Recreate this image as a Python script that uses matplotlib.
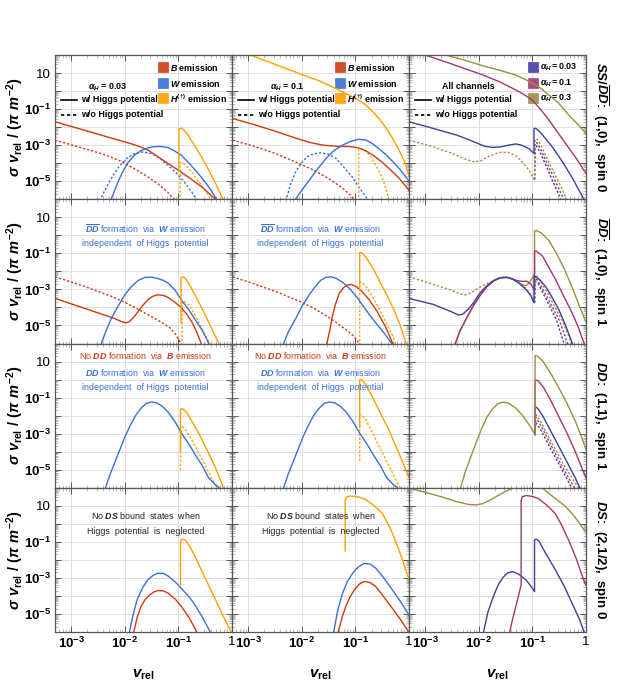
import numpy as np
import matplotlib.pyplot as plt
from matplotlib.patches import Rectangle

plt.rcParams["font.family"] = "Liberation Sans"
plt.rcParams["mathtext.fontset"] = "custom"
plt.rcParams["mathtext.rm"] = "Liberation Sans:bold"
plt.rcParams["mathtext.it"] = "Liberation Sans:italic:bold"
plt.rcParams["mathtext.bf"] = "Liberation Sans:bold"

# curves are stored as (log10 v_rel, log10 sigma v_rel)
# row 1: SS / DDbar (1,0) spin 0
r1c1_B_on = ([-3.3, -1.85, -1.7, -1.55, -1.38, -1.19, -1.0, -0.82, -0.56, -0.31, -0.28],
             [-1.70, -2.95, -3.1, -3.3, -3.65, -4.02, -4.39, -4.76, -5.32, -6.0, -6.1])
r1c1_B_off = ([-3.3, -2.8, -2.4, -2.1, -1.85, -1.6, -1.38, -1.2, -1.05],
              [-2.72, -3.15, -3.5, -3.85, -4.25, -4.7, -5.15, -5.6, -6.1])
r1c1_W_on = ([-2.27, -2.2, -2.14, -2.05, -1.95, -1.82, -1.7, -1.57, -1.45, -1.32, -1.2, -1.08, -0.95, -0.8, -0.65, -0.5, -0.38, -0.27],
             [-6.1, -5.6, -5.13, -4.55, -4.0, -3.55, -3.3, -3.15, -3.08, -3.07, -3.13, -3.3, -3.55, -4.0, -4.5, -5.05, -5.55, -6.1])
r1c1_W_off = ([-2.47, -2.38, -2.3, -2.2, -2.1, -1.95, -1.82, -1.67, -1.52, -1.38, -1.2, -1.05, -0.9, -0.75, -0.65],
              [-6.1, -5.55, -5.1, -4.6, -4.15, -3.7, -3.47, -3.38, -3.45, -3.65, -4.1, -4.5, -5.0, -5.6, -6.1])
r1c1_H_on = ([-0.99, -0.99, -0.97, -0.94, -0.9, -0.82, -0.7, -0.56, -0.43, -0.31, -0.2, -0.15],
             [-4.45, -2.15, -2.07, -2.07, -2.15, -2.45, -3.0, -3.7, -4.4, -5.1, -5.8, -6.1])
r1c1_H_off = ([-0.97, -0.97, -0.93, -0.87, -0.75, -0.6, -0.48, -0.38],
              [-6.1, -3.98, -3.98, -4.1, -4.5, -5.1, -5.6, -6.1])

r1c2_B_on = ([-3.29, -2.9, -2.5, -2.1, -1.85, -1.6, -1.35, -1.1, -0.94, -0.8, -0.65, -0.5, -0.35, -0.18, 0.0],
             [-1.52, -1.85, -2.22, -2.62, -2.85, -3.0, -3.06, -3.08, -3.15, -3.32, -3.6, -3.95, -4.35, -4.85, -5.5])
r1c2_B_off = ([-3.29, -2.9, -2.5, -2.1, -1.8, -1.5, -1.25, -1.1, -1.0],
              [-2.72, -3.05, -3.45, -3.95, -4.35, -4.85, -5.35, -5.75, -6.1])
r1c2_W_on = ([-2.14, -2.0, -1.86, -1.7, -1.55, -1.4, -1.24, -1.1, -0.94, -0.8, -0.69, -0.55, -0.44, -0.3, -0.18, 0.0],
             [-6.1, -5.5, -4.94, -4.3, -3.74, -3.3, -3.0, -2.8, -2.67, -2.72, -2.9, -3.22, -3.5, -3.92, -4.3, -5.0])
r1c2_W_off = ([-2.3, -2.2, -2.11, -2.0, -1.9, -1.78, -1.65, -1.5, -1.35, -1.18, -1.05, -0.94, -0.82, -0.75],
              [-6.1, -5.1, -4.45, -3.95, -3.65, -3.48, -3.42, -3.5, -3.75, -4.35, -4.8, -5.3, -5.8, -6.1])
r1c2_H_on = ([-3.05, -2.6, -2.05, -1.7, -1.43, -1.2, -0.94, -0.8, -0.69, -0.55, -0.44, -0.3, -0.18, -0.08, 0.0],
             [2.1, 1.6, 0.98, 0.6, 0.24, -0.1, -0.5, -0.78, -1.1, -1.55, -2.0, -2.65, -3.3, -3.95, -4.67])
r1c2_H_off = ([-0.94, -0.94, -0.88, -0.8, -0.7, -0.6, -0.5, -0.44, -0.37],
              [-6.1, -3.2, -3.2, -3.35, -3.7, -4.2, -4.8, -5.3, -6.1])

r1c3_a003_on = ([-3.3, -2.85, -2.4, -2.1, -1.9, -1.75, -1.6, -1.45, -1.31, -1.2, -1.06, -0.97, -0.97, -0.93, -0.85, -0.75, -0.63, -0.5, -0.38, -0.25, -0.13, -0.04],
                [-1.7, -2.07, -2.45, -2.8, -3.05, -3.12, -3.1, -3.0, -2.93, -3.0, -3.2, -3.46, -2.07, -2.07, -2.3, -2.65, -3.09, -3.65, -4.2, -4.85, -5.5, -6.0])
r1c3_a01_on = ([-3.1, -2.54, -1.92, -1.6, -1.31, -1.15, -1.0, -0.85, -0.69, -0.55, -0.38, -0.2, -0.04, 0.0],
               [2.1, 1.54, 0.89, 0.5, 0.06, -0.2, -0.5, -1.0, -1.61, -2.2, -2.91, -3.65, -4.39, -4.55])
r1c3_a03_on = ([-2.75, -2.3, -1.92, -1.6, -1.31, -1.1, -0.88, -0.7, -0.51, -0.3, -0.15, 0.0],
               [2.1, 1.75, 1.4, 1.15, 0.89, 0.6, 0.24, -0.2, -0.67, -1.4, -1.85, -2.35])
r1c3_off_pre = ([-3.3, -2.85, -2.5, -2.23, -2.08, -1.95, -1.8, -1.61, -1.45, -1.3, -1.18, -1.05, -0.97],
                [-2.72, -3.09, -3.45, -3.8, -3.93, -3.85, -3.6, -3.4, -3.4, -3.6, -3.95, -4.45, -4.9])
r1c3_a003_off = ([-0.96, -0.95, -0.92, -0.85, -0.75, -0.62, -0.5, -0.46], [-4.9, -3.1, -3.05, -3.45, -4.1, -5.0, -5.8, -6.1])
r1c3_a01_off = ([-0.96, -0.95, -0.92, -0.85, -0.75, -0.6, -0.48, -0.4], [-4.9, -2.9, -2.85, -3.2, -3.85, -4.8, -5.6, -6.1])
r1c3_a03_off = ([-0.96, -0.95, -0.92, -0.85, -0.75, -0.6, -0.45, -0.35], [-4.9, -2.7, -2.63, -2.95, -3.6, -4.5, -5.4, -6.1])

# row 2: DDbar (1,0) spin 1
r2c1_B_on = ([-3.3, -2.6, -2.2, -2.05, -1.98, -1.92, -1.85, -1.77, -1.68, -1.58, -1.48, -1.38, -1.28, -1.19, -1.05, -0.95, -0.85, -0.75, -0.66, -0.58, -0.56],
             [-3.5, -4.2, -4.6, -4.8, -4.85, -4.8, -4.6, -4.3, -3.95, -3.6, -3.38, -3.3, -3.33, -3.45, -3.75, -4.0, -4.35, -4.8, -5.35, -5.96, -6.1])
r2c1_B_off = ([-3.3, -2.77, -2.26, -2.01, -1.75, -1.51, -1.3, -1.15, -1.05, -0.97, -0.95],
              [-2.3, -2.81, -3.37, -3.7, -4.1, -4.5, -4.85, -5.15, -5.5, -5.9, -6.1])
r2c1_W_on = ([-2.45, -2.35, -2.25, -2.12, -2.0, -1.88, -1.75, -1.62, -1.5, -1.38, -1.28, -1.19, -1.06, -0.94, -0.8, -0.69, -0.55, -0.44, -0.42],
             [-6.1, -5.3, -4.6, -3.9, -3.3, -2.85, -2.5, -2.33, -2.32, -2.4, -2.5, -2.65, -3.05, -3.6, -4.15, -4.66, -5.3, -5.96, -6.1])
r2c1_H_on = ([-0.95, -0.95, -0.92, -0.88, -0.82, -0.7, -0.56, -0.43, -0.31, -0.23],
             [-4.85, -2.35, -2.3, -2.35, -2.6, -3.25, -4.05, -4.85, -5.6, -6.1])
r2c1_H_off = ([-0.93, -0.93, -0.88, -0.8, -0.7, -0.6, -0.5, -0.4],
              [-6.1, -3.65, -3.68, -3.9, -4.35, -4.95, -5.5, -6.1])

r2c2_B_on = ([-1.54, -1.48, -1.43, -1.37, -1.3, -1.22, -1.15, -1.07, -0.98, -0.88, -0.75, -0.6, -0.45, -0.36, -0.29],
             [-6.1, -5.3, -4.5, -3.8, -3.2, -2.9, -2.75, -2.73, -2.85, -3.1, -3.55, -4.2, -5.0, -5.6, -6.1])
r2c2_B_off = ([-3.29, -2.9, -2.5, -2.05, -1.8, -1.55, -1.35, -1.18, -1.05, -0.96, -0.93],
              [-2.3, -2.68, -3.1, -3.65, -4.0, -4.45, -4.85, -5.22, -5.55, -5.85, -6.1])
r2c2_W_on = ([-2.35, -2.25, -2.11, -2.0, -1.86, -1.75, -1.65, -1.55, -1.45, -1.35, -1.22, -1.1, -0.98, -0.86, -0.74, -0.62, -0.47, -0.33, -0.3],
             [-6.1, -5.35, -4.6, -3.95, -3.3, -2.85, -2.5, -2.33, -2.3, -2.4, -2.65, -2.98, -3.4, -3.9, -4.4, -4.85, -5.4, -5.96, -6.1])
r2c2_H_on = ([-0.92, -0.92, -0.9, -0.85, -0.75, -0.65, -0.55, -0.45, -0.35, -0.25, -0.15, -0.06, -0.05],
             [-3.0, -0.96, -0.95, -1.05, -1.45, -1.95, -2.55, -3.1, -3.7, -4.35, -5.1, -5.96, -6.1])
r2c2_H_off = ([-0.92, -0.92, -0.88, -0.81, -0.7, -0.56, -0.45, -0.37, -0.3, -0.24],
              [-6.1, -2.6, -2.62, -2.8, -3.3, -4.05, -4.7, -5.2, -5.6, -6.1])

r2c3_a003_on = ([-3.3, -2.85, -2.5, -2.38, -2.3, -2.2, -2.1, -1.98, -1.85, -1.72, -1.6, -1.48, -1.37, -1.25, -1.12, -1.03, -0.97, -0.97, -0.94, -0.85, -0.75, -0.63, -0.51, -0.38, -0.26, -0.24],
                [-3.5, -3.83, -4.25, -4.42, -4.38, -4.1, -3.75, -3.2, -2.8, -2.5, -2.35, -2.33, -2.42, -2.65, -3.0, -3.35, -3.74, -2.3, -2.3, -2.5, -2.85, -3.45, -4.1, -5.0, -5.96, -6.1])
r2c3_a01_on = ([-2.45, -2.35, -2.23, -2.1, -1.98, -1.85, -1.72, -1.6, -1.48, -1.37, -1.3, -1.2, -1.1, -1.03, -0.97, -0.96, -0.96, -0.93, -0.81, -0.7, -0.57, -0.42, -0.26, -0.15, -0.04, -0.03],
               [-6.1, -5.3, -4.6, -3.9, -3.35, -2.85, -2.52, -2.35, -2.33, -2.42, -2.5, -2.55, -2.55, -2.7, -3.0, -3.1, -0.87, -0.87, -1.15, -1.75, -2.44, -3.35, -4.3, -5.05, -5.96, -6.1])
r2c3_a03_on = ([-2.45, -2.35, -2.23, -2.1, -1.98, -1.85, -1.72, -1.6, -1.48, -1.37, -1.25, -1.12, -1.05, -0.99, -0.96, -0.96, -0.92, -0.82, -0.69, -0.55, -0.4, -0.25, -0.1, 0.0],
               [-6.1, -5.3, -4.6, -3.9, -3.35, -2.85, -2.52, -2.35, -2.33, -2.42, -2.65, -2.8, -2.6, -2.3, -2.1, 0.24, 0.27, 0.1, -0.3, -1.0, -1.9, -2.95, -4.1, -4.8])
r2c3_off_pre = ([-3.3, -2.85, -2.5, -2.36, -2.25, -2.15, -2.05, -1.9, -1.72, -1.6, -1.48, -1.37, -1.25, -1.12, -1.03, -0.97],
                [-2.3, -2.72, -3.05, -3.25, -3.3, -3.2, -3.0, -2.75, -2.5, -2.35, -2.33, -2.42, -2.62, -2.95, -3.3, -3.74])
r2c3_a003_off = ([-0.96, -0.95, -0.9, -0.75, -0.55, -0.4], [-3.74, -2.55, -2.65, -3.5, -4.7, -6.1])
r2c3_a01_off = ([-0.96, -0.95, -0.9, -0.75, -0.5, -0.33], [-3.74, -2.4, -2.5, -3.3, -4.7, -6.1])
r2c3_a03_off = ([-0.96, -0.95, -0.9, -0.7, -0.45, -0.25], [-3.74, -2.2, -2.3, -3.3, -4.7, -6.1])

# row 3: DD (1,1) spin 1
r3c1_W_on = ([-2.37, -2.28, -2.2, -2.1, -2.0, -1.9, -1.8, -1.7, -1.6, -1.5, -1.4, -1.3, -1.19, -1.06, -0.94, -0.8, -0.69, -0.55, -0.44, -0.32, -0.2],
             [-6.1, -5.3, -4.7, -3.95, -3.2, -2.55, -2.0, -1.6, -1.32, -1.24, -1.3, -1.48, -1.81, -2.35, -2.98, -3.6, -4.15, -4.8, -5.43, -5.8, -6.1])
r3c1_H_on = ([-0.96, -0.96, -0.93, -0.85, -0.75, -0.6, -0.45, -0.3, -0.16, -0.15],
             [-4.04, -1.65, -1.6, -1.8, -2.3, -3.1, -4.0, -4.95, -6.0, -6.1])
r3c1_H_off = ([-0.96, -0.96, -0.93, -0.85, -0.75, -0.6, -0.45, -0.3, -0.25],
              [-5.02, -2.57, -2.6, -2.85, -3.35, -4.2, -5.05, -5.9, -6.1])

r3c2_W_on = ([-2.35, -2.26, -2.18, -2.08, -1.98, -1.88, -1.78, -1.68, -1.58, -1.48, -1.38, -1.28, -1.17, -1.04, -0.92, -0.78, -0.67, -0.53, -0.42, -0.3, -0.18],
             [-6.1, -5.3, -4.7, -3.95, -3.2, -2.55, -2.0, -1.6, -1.32, -1.24, -1.3, -1.48, -1.81, -2.35, -2.98, -3.6, -4.15, -4.8, -5.43, -5.8, -6.1])
r3c2_H_on = ([-0.92, -0.92, -0.88, -0.8, -0.68, -0.52, -0.37, -0.2, 0.0],
             [-2.65, -0.02, 0.0, -0.3, -0.98, -1.95, -2.83, -4.0, -5.43])
r3c2_H_off = ([-0.92, -0.92, -0.88, -0.81, -0.68, -0.56, -0.43, -0.31, -0.2, -0.15],
              [-4.5, -1.93, -1.95, -2.2, -2.95, -3.69, -4.45, -5.17, -5.8, -6.1])

r3c3_pre = ([-2.35, -2.25, -2.15, -2.05, -1.95, -1.85, -1.75, -1.65, -1.55, -1.45, -1.32, -1.18, -1.05, -0.95],
            [-6.1, -5.1, -4.3, -3.5, -2.75, -2.1, -1.65, -1.35, -1.25, -1.3, -1.55, -2.0, -2.55, -3.05])
r3c3_a003_on = ([-0.95, -0.95, -0.9, -0.8, -0.65, -0.5, -0.35, -0.2, -0.1], [-3.05, -1.5, -1.6, -2.05, -2.9, -3.75, -4.6, -5.45, -6.1])
r3c3_a01_on = ([-0.95, -0.95, -0.9, -0.8, -0.65, -0.5, -0.35, -0.2, -0.05, 0.0], [-3.05, -0.02, -0.05, -0.4, -1.2, -2.1, -3.0, -4.0, -5.1, -5.45])
r3c3_a03_on = ([-0.95, -0.95, -0.9, -0.8, -0.65, -0.5, -0.35, -0.2, -0.05, 0.0], [-3.05, 1.33, 1.3, 1.0, 0.3, -0.5, -1.35, -2.3, -3.45, -3.9])
r3c3_a003_off = ([-0.95, -0.94, -0.85, -0.65, -0.45, -0.25], [-3.05, -2.37, -2.75, -3.9, -5.0, -6.1])
r3c3_a01_off = ([-0.95, -0.94, -0.85, -0.65, -0.45, -0.2], [-3.05, -2.09, -2.5, -3.65, -4.8, -6.1])
r3c3_a03_off = ([-0.95, -0.94, -0.85, -0.65, -0.4, -0.12], [-3.05, -1.91, -2.3, -3.45, -4.8, -6.1])

# row 4: DS (2,1/2) spin 0
r4c1_W_on = ([-1.92, -1.85, -1.77, -1.67, -1.57, -1.47, -1.38, -1.28, -1.19, -1.05, -0.94, -0.8, -0.69, -0.55, -0.41, -0.39],
             [-6.1, -5.1, -4.22, -3.55, -3.11, -2.85, -2.74, -2.75, -2.9, -3.25, -3.6, -4.05, -4.5, -5.2, -5.98, -6.1])
r4c1_B_on = ([-1.84, -1.77, -1.70, -1.62, -1.54, -1.46, -1.38, -1.28, -1.19, -1.05, -0.94, -0.8, -0.66, -0.64],
             [-6.1, -5.2, -4.6, -4.2, -3.96, -3.78, -3.7, -3.72, -3.85, -4.2, -4.6, -5.2, -5.98, -6.1])
r4c1_H_on = ([-0.96, -0.96, -0.93, -0.87, -0.78, -0.69, -0.55, -0.38, -0.2, -0.02, 0.0],
             [-3.39, -0.95, -0.85, -0.9, -1.3, -1.81, -2.7, -3.75, -4.9, -5.98, -6.1])

r4c2_H_on = ([-1.19, -1.19, -1.17, -1.12, -1.0, -0.9, -0.81, -0.65, -0.5, -0.35, -0.2, -0.1, 0.0],
             [-1.5, 1.3, 1.48, 1.54, 1.52, 1.45, 1.35, 1.0, 0.59, -0.25, -1.35, -2.2, -3.11])
r4c2_W_on = ([-1.41, -1.33, -1.24, -1.15, -1.05, -0.95, -0.84, -0.73, -0.62, -0.47, -0.31, -0.15, 0.0],
             [-6.1, -4.8, -3.85, -3.2, -2.74, -2.4, -2.2, -2.23, -2.46, -3.0, -3.67, -4.35, -5.06])
r4c2_B_on = ([-1.33, -1.25, -1.18, -1.1, -1.02, -0.93, -0.84, -0.73, -0.62, -0.47, -0.31, -0.15, -0.01, 0.0],
             [-6.1, -5.2, -4.59, -4.05, -3.67, -3.35, -3.2, -3.25, -3.48, -4.05, -4.69, -5.35, -5.98, -6.05])

r4c3_a003_on = ([-1.92, -1.83, -1.73, -1.64, -1.55, -1.46, -1.37, -1.25, -1.12, -1.03, -0.96, -0.96, -0.93, -0.88, -0.75, -0.57, -0.4, -0.26, -0.12, -0.04, -0.02],
                [-6.1, -4.9, -4.04, -3.4, -2.98, -2.72, -2.65, -2.8, -3.11, -3.45, -3.76, -0.9, -0.85, -0.95, -1.65, -2.56, -3.5, -4.41, -5.3, -5.98, -6.1])
r4c3_a01_on = ([-1.43, -1.37, -1.31, -1.26, -1.22, -1.21, -1.21, -1.19, -1.12, -1.0, -0.88, -0.72, -0.57, -0.45, -0.32, -0.18, -0.04, 0.0],
               [-6.1, -5.3, -4.59, -4.0, -3.5, -3.4, 1.3, 1.5, 1.57, 1.52, 1.39, 1.0, 0.56, -0.1, -0.93, -1.95, -3.15, -3.4])
r4c3_a03_on = ([-3.3, -3.0, -2.7, -2.42, -2.2, -2.05, -1.92, -1.8, -1.65, -1.5, -1.37, -1.2, -1.0, -0.82, -0.7, -0.57, -0.38, -0.2, -0.04, 0.0],
               [1.98, 1.75, 1.5, 1.24, 1.08, 1.05, 1.12, 1.3, 1.55, 1.8, 1.98, 2.15, 2.2, 2.0, 1.7, 1.4, 0.96, 0.35, -0.33, -0.45])

C_B, C_W, C_H = "#CC3A14", "#3A6FD8", "#FFA000"
C_003, C_01, C_03 = "#3F3F9F", "#A2376F", "#9E8C42"
DASH = (0, (1.6, 1.4))


def curve(ax, d, color, dashed=False):
    ax.plot(10.0 ** np.array(d[0]), 10.0 ** np.array(d[1]), color=color, lw=1.0,
            ls=DASH if dashed else "-", solid_joinstyle="round")


def legend_lines(ax, head, x_head):
    ax.text(x_head, 0.78, head, transform=ax.transAxes, ha="center", va="center", fontsize=6.4, fontweight="bold")
    ax.plot([0.035, 0.125], [0.69, 0.69], transform=ax.transAxes, color="k", lw=1.2)
    ax.plot([0.035, 0.125], [0.585, 0.585], transform=ax.transAxes, color="k", lw=1.2, ls=(0, (2, 1.6)))
    ax.text(0.145, 0.69, "w/ Higgs potential", transform=ax.transAxes, va="center", fontsize=6.4, fontweight="bold")
    ax.text(0.145, 0.585, "w/o Higgs potential", transform=ax.transAxes, va="center", fontsize=6.4, fontweight="bold")


def legend_patches(ax, labels, colors, x0):
    for lab, col, y in zip(labels, colors, [0.915, 0.805, 0.7]):
        ax.add_patch(Rectangle((x0, y - 0.035), 0.057, 0.07, transform=ax.transAxes,
                               facecolor=col, edgecolor=col, alpha=0.9, lw=0.5))
        ax.text(x0 + 0.072, y, lab, transform=ax.transAxes, va="center", fontsize=6.4, fontweight="bold")


def note(ax, lines, colors, ys, x=0.51):
    for t, c, y in zip(lines, colors, ys):
        ax.text(x, y, t, transform=ax.transAxes, ha="center", va="center", fontsize=6.4, color=c)


def main():
    fig, axes = plt.subplots(4, 3, figsize=(6.42, 6.88), dpi=100)
    fig.subplots_adjust(left=0.0857, right=0.9128, top=0.920, bottom=0.0814, hspace=0, wspace=0)

    xt = [1e-3, 1e-2, 1e-1, 1]
    xl = [r"$10^{-3}$", r"$10^{-2}$", r"$10^{-1}$", "1"]
    yt = [10.0 ** k for k in range(-6, 3)]
    yl = ["", r"$10^{-5}$", "", r"$10^{-3}$", "", r"$10^{-1}$", "", "10", ""]

    for i in range(4):
        for j in range(3):
            ax = axes[i, j]
            ax.set_xscale("log")
            ax.set_yscale("log")
            ax.set_xlim(5e-4, 1)
            ax.set_ylim(1e-6, 1e2)
            ax.set_xticks(xt)
            ax.set_yticks(yt)
            ax.xaxis.set_minor_locator(plt.LogLocator(base=10, subs=np.arange(2, 10), numticks=20))
            ax.yaxis.set_minor_locator(plt.LogLocator(base=10, subs=np.arange(2, 10), numticks=20))
            ax.xaxis.set_minor_formatter(plt.NullFormatter())
            ax.yaxis.set_minor_formatter(plt.NullFormatter())
            ax.set_xticklabels(xl if i == 3 else [""] * 4)
            ax.set_yticklabels(yl if j == 0 else [""] * 9)
            ax.grid(True, which="major", color="#dedede", lw=0.7)
            ax.set_axisbelow(True)
            ax.tick_params(which="both", direction="in", top=True, right=True, labelsize=9.5, pad=3)
            ax.tick_params(which="major", length=4, width=0.7, color="#555555")
            ax.tick_params(which="minor", length=2, width=0.4, color="#8a8a8a")
            for s in ax.spines.values():
                s.set_color("#555555")
                s.set_linewidth(0.9)
            if j == 0:
                ax.set_ylabel(r"$\sigma\ v_{\rm rel}\ /\ (\pi\ m^{-2})$", fontsize=10.5)
                ax.yaxis.set_label_coords(-0.165, 0.5)
            if i == 3:
                ax.set_xlabel(r"$v_{\rm rel}$", fontsize=11)
                ax.xaxis.set_label_coords(0.5, -0.25)

    # row 1
    ax = axes[0, 0]
    curve(ax, r1c1_B_off, C_B, True)
    curve(ax, r1c1_W_off, C_W, True)
    curve(ax, r1c1_H_off, C_H, True)
    curve(ax, r1c1_B_on, C_B)
    curve(ax, r1c1_W_on, C_W)
    curve(ax, r1c1_H_on, C_H)
    legend_lines(ax, r"$\alpha_H$ = 0.03", 0.30)
    legend_patches(ax, [r"$B$ emission", r"$W$ emission", r"$H^{(\dagger)}$ emission"], [C_B, C_W, C_H], 0.58)

    ax = axes[0, 1]
    curve(ax, r1c2_B_off, C_B, True)
    curve(ax, r1c2_W_off, C_W, True)
    curve(ax, r1c2_H_off, C_H, True)
    curve(ax, r1c2_B_on, C_B)
    curve(ax, r1c2_W_on, C_W)
    curve(ax, r1c2_H_on, C_H)
    legend_lines(ax, r"$\alpha_H$ = 0.1", 0.31)
    legend_patches(ax, [r"$B$ emission", r"$W$ emission", r"$H^{(\dagger)}$ emission"], [C_B, C_W, C_H], 0.58)

    ax = axes[0, 2]
    for d, c in [(r1c3_a003_off, C_003), (r1c3_a01_off, C_01), (r1c3_a03_off, C_03)]:
        curve(ax, d, c, True)
    curve(ax, r1c3_off_pre, C_03, True)
    curve(ax, r1c3_a003_on, C_003)
    curve(ax, r1c3_a01_on, C_01)
    curve(ax, r1c3_a03_on, C_03)
    legend_lines(ax, "All channels", 0.335)
    legend_patches(ax, [r"$\alpha_H = 0.03$", r"$\alpha_H = 0.1$", r"$\alpha_H = 0.3$"], [C_003, C_01, C_03], 0.67)

    # row 2
    ax = axes[1, 0]
    curve(ax, r2c1_B_off, C_B, True)
    curve(ax, r2c1_H_off, C_H, True)
    curve(ax, r2c1_B_on, C_B)
    curve(ax, r2c1_W_on, C_W)
    curve(ax, r2c1_H_on, C_H)
    note(ax, [r"$\overline{DD}$ formation  via  $W$ emission", "independent  of Higgs  potential"], [C_W, C_W], [0.8, 0.695])

    ax = axes[1, 1]
    curve(ax, r2c2_B_off, C_B, True)
    curve(ax, r2c2_H_off, C_H, True)
    curve(ax, r2c2_W_on, C_W)
    curve(ax, r2c2_B_on, C_B)
    curve(ax, r2c2_H_on, C_H)
    note(ax, [r"$\overline{DD}$ formation  via  $W$ emission", "independent  of Higgs  potential"], [C_W, C_W], [0.8, 0.695], 0.5)

    ax = axes[1, 2]
    for d, c in [(r2c3_a003_off, C_003), (r2c3_a01_off, C_01), (r2c3_a03_off, C_03)]:
        curve(ax, d, c, True)
    curve(ax, r2c3_off_pre, C_03, True)
    curve(ax, r2c3_a03_on, C_03)
    curve(ax, r2c3_a01_on, C_01)
    curve(ax, r2c3_a003_on, C_003)

    # row 3
    dd_lines = [r"No $DD$ formation  via  $B$ emission", r"$DD$ formation  via  $W$ emission", "independent  of Higgs  potential"]
    ax = axes[2, 0]
    curve(ax, r3c1_H_off, C_H, True)
    curve(ax, r3c1_W_on, C_W)
    curve(ax, r3c1_H_on, C_H)
    note(ax, dd_lines, [C_B, C_W, C_W], [0.915, 0.8, 0.695])

    ax = axes[2, 1]
    curve(ax, r3c2_H_off, C_H, True)
    curve(ax, r3c2_W_on, C_W)
    curve(ax, r3c2_H_on, C_H)
    note(ax, dd_lines, [C_B, C_W, C_W], [0.915, 0.8, 0.695], 0.5)

    ax = axes[2, 2]
    for d, c in [(r3c3_a003_off, C_003), (r3c3_a01_off, C_01), (r3c3_a03_off, C_03)]:
        curve(ax, d, c, True)
    curve(ax, r3c3_pre, C_03)
    curve(ax, r3c3_a003_on, C_003)
    curve(ax, r3c3_a01_on, C_01)
    curve(ax, r3c3_a03_on, C_03)

    # row 4
    ds_lines = [r"No $DS$ bound  states  when", "Higgs  potential  is  neglected"]
    ax = axes[3, 0]
    curve(ax, r4c1_W_on, C_W)
    curve(ax, r4c1_B_on, C_B)
    curve(ax, r4c1_H_on, C_H)
    note(ax, ds_lines, ["#222222"] * 2, [0.805, 0.695])

    ax = axes[3, 1]
    curve(ax, r4c2_W_on, C_W)
    curve(ax, r4c2_B_on, C_B)
    curve(ax, r4c2_H_on, C_H)
    note(ax, ds_lines, ["#222222"] * 2, [0.805, 0.695], 0.5)

    ax = axes[3, 2]
    curve(ax, r4c3_a003_on, C_003)
    curve(ax, r4c3_a01_on, C_01)
    curve(ax, r4c3_a03_on, C_03)

    side = [r"$SS/\overline{DD}$:  (1,0),  spin 0", r"$\overline{DD}$:  (1,0),  spin 1",
            r"$DD$:  (1,1),  spin 1", r"$DS$:  (2,1/2),  spin 0"]
    for i, t in enumerate(side):
        axes[i, 2].text(1.08, 0.5, t, transform=axes[i, 2].transAxes, rotation=270,
                        ha="center", va="center", fontsize=9.5, fontweight="bold")

    fig.savefig("out.png", dpi=100)


if __name__ == "__main__":
    main()
